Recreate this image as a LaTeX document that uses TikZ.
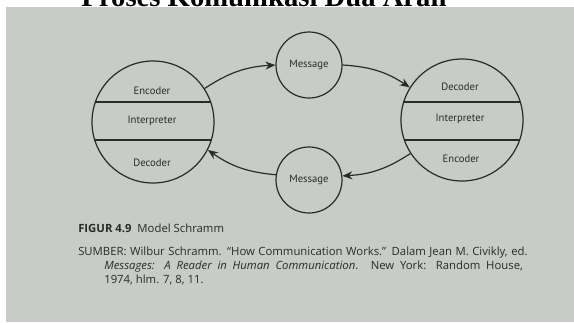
\documentclass[tikz,border=0pt]{standalone}
\usepackage{fontspec}
\setmainfont{PT Sans}
\newfontfamily\titlefont{Liberation Serif}
\newfontfamily\capfont{Open Sans}
\usetikzlibrary{arrows.meta}

\definecolor{paper}{RGB}{200,204,199}
\definecolor{ink}{RGB}{42,42,42}

\tikzset{
  party/.style={draw=ink, line width=0.9pt, circle, minimum size=91.5pt, inner sep=0pt},
  msg/.style={draw=ink, line width=0.9pt, circle, minimum size=49.5pt, inner sep=0pt,
    font=\fontsize{8}{9}\selectfont, text=ink},
  role/.style={font=\fontsize{8}{9}\selectfont, text=ink},
  flow/.style={draw=ink, line width=0.9pt, -{Stealth[length=7.5pt,width=6pt]}},
  caption/.style={anchor=base west, font=\capfont\fontsize{8.5}{10}\selectfont, text=ink, inner sep=0pt},
}

\begin{document}
\begin{tikzpicture}[x=0.75pt, y=-0.75pt]
\useasboundingbox (0,0) rectangle (574,322);
\fill[white] (0,0) rectangle (574,322);
\fill[paper] (6,7) rectangle (574,322);

% Title, cut at the top edge
\node[anchor=base, font=\titlefont\bfseries\fontsize{21.5}{24}\selectfont] (title) at (264,6) {Proses Komunikasi Dua Arah};

% The two parties
\node[party] (src) at (153,122) {};
\node[party] (dst) at (462,120) {};

% Split each party in three bands
\begin{scope}
\clip (153,122) circle[radius=45.75pt];
\draw[ink, line width=0.9pt] (80,102) -- (230,102);
\draw[ink, line width=0.9pt] (80,140) -- (230,140);
\end{scope}
\begin{scope}
\clip (462,120) circle[radius=45.75pt];
\draw[ink, line width=0.9pt] (390,102) -- (540,102);
\draw[ink, line width=0.9pt] (390,140) -- (540,140);
\end{scope}

\node[role] (srcEnc) at (152,91) {Encoder};
\node[role] (srcInt) at (152,121) {Interpreter};
\node[role] (srcDec) at (152,163) {Decoder};
\node[role] (dstDec) at (460,87) {Decoder};
\node[role] (dstInt) at (460,119) {Interpreter};
\node[role] (dstEnc) at (461,159) {Encoder};

% Messages
\node[msg] (msgA) at (309,65) {Message};
\node[msg] (msgB) at (309,180) {Message};

% Flow between them
\draw[flow] (src.33) to[bend left=15] (msgA.180);
\draw[flow] (msgA.0) to[bend left=15] (dst.148);
\draw[flow] (dst.213) to[bend left=15] (msgB.7);
\draw[flow] (msgB.171) to[bend left=15] (src.-27);

% Caption
\node[caption] (figno) at (78,232) {\textbf{FIGUR 4.9}\ \ Model Schramm};
\node[caption] (srcLineA) at (78,255) {\makebox[337pt][s]{SUMBER: Wilbur Schramm. “How Communication Works.” Dalam Jean M. Civikly, ed.}};
\node[caption] (srcLineB) at (104,269) {\makebox[314pt][s]{\textit{Messages: A Reader in Human Communication}. New York: Random House,}};
\node[caption] (srcLineC) at (104,283) {1974, hlm. 7, 8, 11.};
\end{tikzpicture}
\end{document}
